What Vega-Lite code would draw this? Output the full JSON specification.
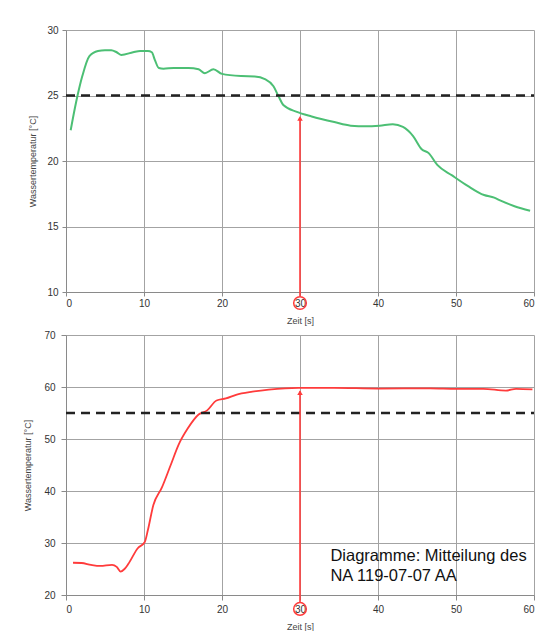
{
  "$schema": "https://vega.github.io/schema/vega-lite/v6.json",
  "background": "white",
  "padding": {"left": 23, "top": 25, "right": 0, "bottom": 0},
  "spacing": 5,
  "config": {
    "font": "Liberation Sans",
    "view": {"stroke": null},
    "axis": {
      "gridColor": "#a3a3a3",
      "gridWidth": 1,
      "domainColor": "#8a8a8a",
      "tickColor": "#8a8a8a",
      "labelColor": "#333333",
      "labelFontSize": 10,
      "titleColor": "#444444",
      "titleFontSize": 9,
      "titleFontWeight": "normal"
    }
  },
  "datasets": {
    "top": [
      {"x": 0.6, "t": 22.35}, {"x": 1.3, "t": 24.5}, {"x": 2.1, "t": 26.5}, {"x": 3.0, "t": 28.0},
      {"x": 4.1, "t": 28.4}, {"x": 5.0, "t": 28.45}, {"x": 5.8, "t": 28.45},
      {"x": 6.5, "t": 28.3}, {"x": 7.1, "t": 28.1}, {"x": 8.6, "t": 28.3}, {"x": 9.5, "t": 28.4}, {"x": 10.5, "t": 28.4},
      {"x": 11.0, "t": 28.3}, {"x": 11.4, "t": 27.7}, {"x": 11.9, "t": 27.1}, {"x": 12.5, "t": 27.05},
      {"x": 13.8, "t": 27.1}, {"x": 15.7, "t": 27.1}, {"x": 17.0, "t": 27.0}, {"x": 17.8, "t": 26.7},
      {"x": 18.9, "t": 27.0}, {"x": 20.0, "t": 26.65}, {"x": 22.5, "t": 26.48}, {"x": 24.2, "t": 26.45},
      {"x": 25.5, "t": 26.25}, {"x": 26.6, "t": 25.7}, {"x": 27.2, "t": 25.0}, {"x": 27.9, "t": 24.25},
      {"x": 29.6, "t": 23.75}, {"x": 31.5, "t": 23.4}, {"x": 34.4, "t": 22.97}, {"x": 36.5, "t": 22.7},
      {"x": 38.5, "t": 22.65}, {"x": 40.2, "t": 22.7}, {"x": 41.9, "t": 22.8}, {"x": 43.2, "t": 22.6},
      {"x": 44.5, "t": 21.9}, {"x": 45.6, "t": 20.9}, {"x": 46.5, "t": 20.6}, {"x": 47.6, "t": 19.7},
      {"x": 49.5, "t": 18.9}, {"x": 51.5, "t": 18.1}, {"x": 53.6, "t": 17.4}, {"x": 54.9, "t": 17.2},
      {"x": 55.8, "t": 16.95}, {"x": 57.5, "t": 16.55}, {"x": 59.5, "t": 16.2}
    ],
    "bottom": [
      {"x": 0.9, "t": 26.2}, {"x": 2.0, "t": 26.15}, {"x": 3.2, "t": 25.8}, {"x": 4.4, "t": 25.6},
      {"x": 5.9, "t": 25.8}, {"x": 6.5, "t": 25.4}, {"x": 7.0, "t": 24.5}, {"x": 7.5, "t": 25.0},
      {"x": 8.0, "t": 26.0}, {"x": 9.2, "t": 29.0}, {"x": 10.1, "t": 30.2}, {"x": 10.5, "t": 32.5},
      {"x": 11.2, "t": 37.3}, {"x": 12.3, "t": 40.7}, {"x": 13.4, "t": 44.9}, {"x": 14.5, "t": 49.1},
      {"x": 15.6, "t": 52.0}, {"x": 17.0, "t": 54.7}, {"x": 18.1, "t": 55.5}, {"x": 19.3, "t": 57.4},
      {"x": 20.5, "t": 57.8}, {"x": 21.8, "t": 58.5}, {"x": 23.9, "t": 59.1}, {"x": 26.0, "t": 59.5},
      {"x": 29.8, "t": 59.85}, {"x": 34.4, "t": 59.85}, {"x": 40.0, "t": 59.7}, {"x": 46.7, "t": 59.75},
      {"x": 50.0, "t": 59.65}, {"x": 53.5, "t": 59.65}, {"x": 56.4, "t": 59.3}, {"x": 57.7, "t": 59.65},
      {"x": 59.8, "t": 59.55}
    ]
  },
  "vconcat": [
    {
      "width": 468,
      "height": 262,
      "layer": [
        {
          "data": {"name": "top"},
          "mark": {"type": "line", "color": "#4cbf74", "strokeWidth": 2, "interpolate": "monotone"},
          "encoding": {
            "x": {
              "field": "x", "type": "quantitative", "scale": {"domain": [0, 60]}, "title": "Zeit  [s]",
              "axis": {
                "values": [0, 5, 10, 15, 20, 25, 30, 35, 40, 45, 50, 55, 60],
                "labelExpr": "datum.value % 10 == 0 ? datum.label : ''",
                "gridOpacity": {"condition": {"test": "datum.value % 10 == 0", "value": 1}, "value": 0},
                "tickSize": 4, "labelPadding": 2, "titlePadding": 8
              }
            },
            "y": {
              "field": "t", "type": "quantitative", "scale": {"domain": [10, 30]}, "title": "Wassertemperatur  [°C]",
              "axis": {
                "values": [10, 15, 20, 25, 30],
                "tickSize": 4, "labelPadding": 4, "titlePadding": 9.5
              }
            }
          }
        },
        {
          "data": {"values": [{"x": 0, "t": 25}, {"x": 60, "t": 25}]},
          "mark": {"type": "line", "color": "#222222", "strokeWidth": 2.5, "strokeDash": [9, 6]},
          "encoding": {
            "x": {"field": "x", "type": "quantitative", "title": "Zeit  [s]"},
            "y": {"field": "t", "type": "quantitative", "title": "Wassertemperatur  [°C]"}
          }
        },
        {
          "data": {"values": [{"x": 30, "t": 9.7, "t2": 23.3}]},
          "mark": {"type": "rule", "color": "#ff3b3b", "strokeWidth": 1.6, "clip": false},
          "encoding": {
            "x": {"field": "x", "type": "quantitative", "title": "Zeit  [s]"},
            "y": {"field": "t", "type": "quantitative", "title": "Wassertemperatur  [°C]"},
            "y2": {"field": "t2"}
          }
        },
        {
          "data": {"values": [{"x": 30, "t": 23.25}]},
          "mark": {"type": "point", "shape": "triangle-up", "filled": true, "color": "#ff3b3b", "size": 30, "opacity": 1},
          "encoding": {
            "x": {"field": "x", "type": "quantitative", "title": "Zeit  [s]"},
            "y": {"field": "t", "type": "quantitative", "title": "Wassertemperatur  [°C]"}
          }
        },
        {
          "data": {"values": [{"x": 30, "t": 9.16}]},
          "mark": {"type": "point", "shape": "circle", "filled": false, "color": "#ff3b3b", "strokeWidth": 1.5, "size": 160, "opacity": 1, "clip": false},
          "encoding": {
            "x": {"field": "x", "type": "quantitative", "title": "Zeit  [s]"},
            "y": {"field": "t", "type": "quantitative", "title": "Wassertemperatur  [°C]"}
          }
        }
      ]
    },
    {
      "width": 468,
      "height": 260,
      "layer": [
        {
          "data": {"name": "bottom"},
          "mark": {"type": "line", "color": "#ff3b3b", "strokeWidth": 1.8, "interpolate": "monotone"},
          "encoding": {
            "x": {
              "field": "x", "type": "quantitative", "scale": {"domain": [0, 60]}, "title": "Zeit  [s]",
              "axis": {
                "values": [0, 10, 20, 30, 40, 50, 60],
                "tickSize": 5, "labelPadding": 4, "titlePadding": 8
              }
            },
            "y": {
              "field": "t", "type": "quantitative", "scale": {"domain": [20, 70]}, "title": "Wassertemperatur  [°C]",
              "axis": {
                "values": [20, 25, 30, 35, 40, 45, 50, 55, 60, 65, 70],
                "labelExpr": "datum.value % 10 == 0 ? datum.label : ''",
                "tickSize": 5, "labelPadding": 6, "titlePadding": 11.5
              }
            }
          }
        },
        {
          "data": {"values": [{"x": 0, "t": 55}, {"x": 60, "t": 55}]},
          "mark": {"type": "line", "color": "#222222", "strokeWidth": 2.5, "strokeDash": [9, 6]},
          "encoding": {
            "x": {"field": "x", "type": "quantitative", "title": "Zeit  [s]"},
            "y": {"field": "t", "type": "quantitative", "title": "Wassertemperatur  [°C]"}
          }
        },
        {
          "data": {"values": [{"x": 30, "t": 18.66, "t2": 59.2}]},
          "mark": {"type": "rule", "color": "#ff3b3b", "strokeWidth": 1.6, "clip": false},
          "encoding": {
            "x": {"field": "x", "type": "quantitative", "title": "Zeit  [s]"},
            "y": {"field": "t", "type": "quantitative", "title": "Wassertemperatur  [°C]"},
            "y2": {"field": "t2"}
          }
        },
        {
          "data": {"values": [{"x": 30, "t": 58.9}]},
          "mark": {"type": "point", "shape": "triangle-up", "filled": true, "color": "#ff3b3b", "size": 30, "opacity": 1},
          "encoding": {
            "x": {"field": "x", "type": "quantitative", "title": "Zeit  [s]"},
            "y": {"field": "t", "type": "quantitative", "title": "Wassertemperatur  [°C]"}
          }
        },
        {
          "data": {"values": [{"x": 30, "t": 17.33}]},
          "mark": {"type": "point", "shape": "circle", "filled": false, "color": "#ff3b3b", "strokeWidth": 1.5, "size": 160, "opacity": 1, "clip": false},
          "encoding": {
            "x": {"field": "x", "type": "quantitative", "title": "Zeit  [s]"},
            "y": {"field": "t", "type": "quantitative", "title": "Wassertemperatur  [°C]"}
          }
        },
        {
          "data": {"values": [{"x": 33.9, "t": 27.5, "label": "Diagramme: Mitteilung des\nNA 119-07-07 AA"}]},
          "mark": {"type": "text", "align": "left", "baseline": "middle", "fontSize": 16.5, "lineHeight": 20, "lineBreak": "\n", "color": "#111111"},
          "encoding": {
            "x": {"field": "x", "type": "quantitative", "title": "Zeit  [s]"},
            "y": {"field": "t", "type": "quantitative", "title": "Wassertemperatur  [°C]"},
            "text": {"field": "label"}
          }
        }
      ]
    }
  ]
}
